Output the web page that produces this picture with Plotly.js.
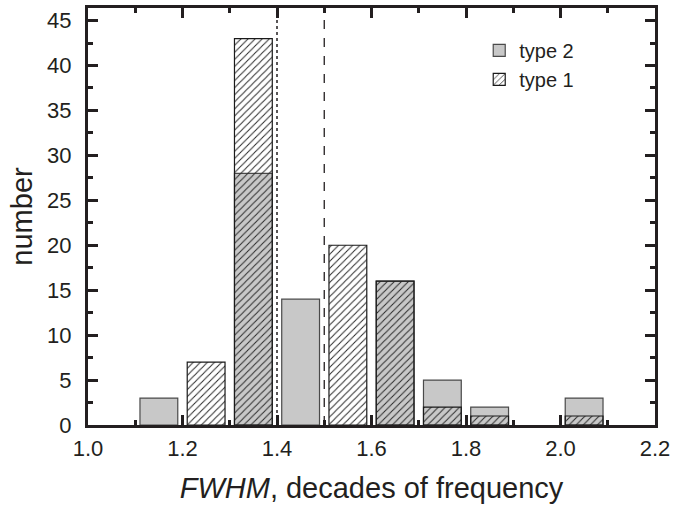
<!DOCTYPE html>
<html>
<head>
<meta charset="utf-8">
<script src="https://cdn.plot.ly/plotly-3.0.1.min.js"></script>
<style>html,body{margin:0;padding:0;background:#fff;}#chart{width:673px;height:510px;}</style>
</head>
<body>
<div id="chart"></div>
<script>
// FWHM bin centres (decades of frequency)
const binCenters = [1.15, 1.25, 1.35, 1.45, 1.55, 1.65, 1.75, 1.85, 2.05];
// counts
const type2Counts = [3, null, 28, 14, null, 16, 5, 2, 3];
const type1Counts = [null, 7, 43, null, 20, 16, 2, 1, 1];
const seriesNames = ['type 2', 'type 1'];
// reference lines
const dottedLineX = 1.4;
const dashedLineX = 1.5;
const xTickVals = [1.0, 1.2, 1.4, 1.6, 1.8, 2.0, 2.2];
const yTickVals = [0, 5, 10, 15, 20, 25, 30, 35, 40, 45];

const FONT = '"Liberation Sans", Arial, sans-serif';
const INK = '#231f20';

const traces = [
  {
    type: 'bar', name: seriesNames[0], x: binCenters, y: type2Counts, width: 0.08,
    marker: {color: '#c8c8c8', line: {color: '#4a4a4a', width: 1.2}},
    hoverinfo: 'x+y'
  },
  {
    type: 'bar', name: seriesNames[1], x: binCenters, y: type1Counts, width: 0.08,
    marker: {color: '#2a2a2a', line: {color: '#1a1a1a', width: 1.2},
      pattern: {shape: '/', size: 5, solidity: 0.2, bgcolor: 'rgba(0,0,0,0)', fillmode: 'replace'}},
    hoverinfo: 'x+y'
  }
];

const axisCommon = {
  showline: true, linecolor: INK, linewidth: 3, mirror: 'allticks',
  ticks: 'inside', tickcolor: INK, tickwidth: 3, ticklen: 10,
  showgrid: false, zeroline: false,
  tickfont: {family: FONT, size: 22, color: INK}
};

const layout = {
  width: 673, height: 510,
  margin: {l: 88, r: 18, t: 8, b: 85},
  paper_bgcolor: '#fff', plot_bgcolor: '#fff',
  barmode: 'overlay',
  showlegend: true,
  legend: {
    x: 0.69, y: 0.945, xanchor: 'left', yanchor: 'top',
    bgcolor: 'rgba(0,0,0,0)', borderwidth: 0,
    font: {family: FONT, size: 20, color: INK},
    tracegroupgap: 0
  },
  xaxis: Object.assign({}, axisCommon, {
    range: [1.0, 2.2], tickvals: xTickVals, tickformat: '.1f', ticklabelstandoff: 2,
    minor: {dtick: 0.1, tick0: 1.0, ticks: 'inside', ticklen: 5, tickwidth: 3, tickcolor: INK, showgrid: false},
    title: {text: '<i>FWHM</i>, decades of frequency', font: {family: FONT, size: 29, color: INK}, standoff: 18}
  }),
  yaxis: Object.assign({}, axisCommon, {
    range: [0, 46.4], tickvals: yTickVals, ticklabelstandoff: 9,
    minor: {dtick: 2.5, tick0: 0, ticks: 'inside', ticklen: 5, tickwidth: 3, tickcolor: INK, showgrid: false},
    title: {text: 'number', font: {family: FONT, size: 29, color: INK}, standoff: 6}
  }),
  shapes: [
    {type: 'line', xref: 'x', yref: 'paper', x0: dottedLineX, x1: dottedLineX, y0: 0, y1: 1,
     line: {color: INK, width: 1.5, dash: 'dot'}, layer: 'above'},
    {type: 'line', xref: 'x', yref: 'paper', x0: dashedLineX, x1: dashedLineX, y0: 0, y1: 1,
     line: {color: INK, width: 1.3, dash: 'dash'}, layer: 'above'}
  ]
};

Plotly.newPlot('chart', traces, layout, {staticPlot: true, displayModeBar: false});
</script>
</body>
</html>
